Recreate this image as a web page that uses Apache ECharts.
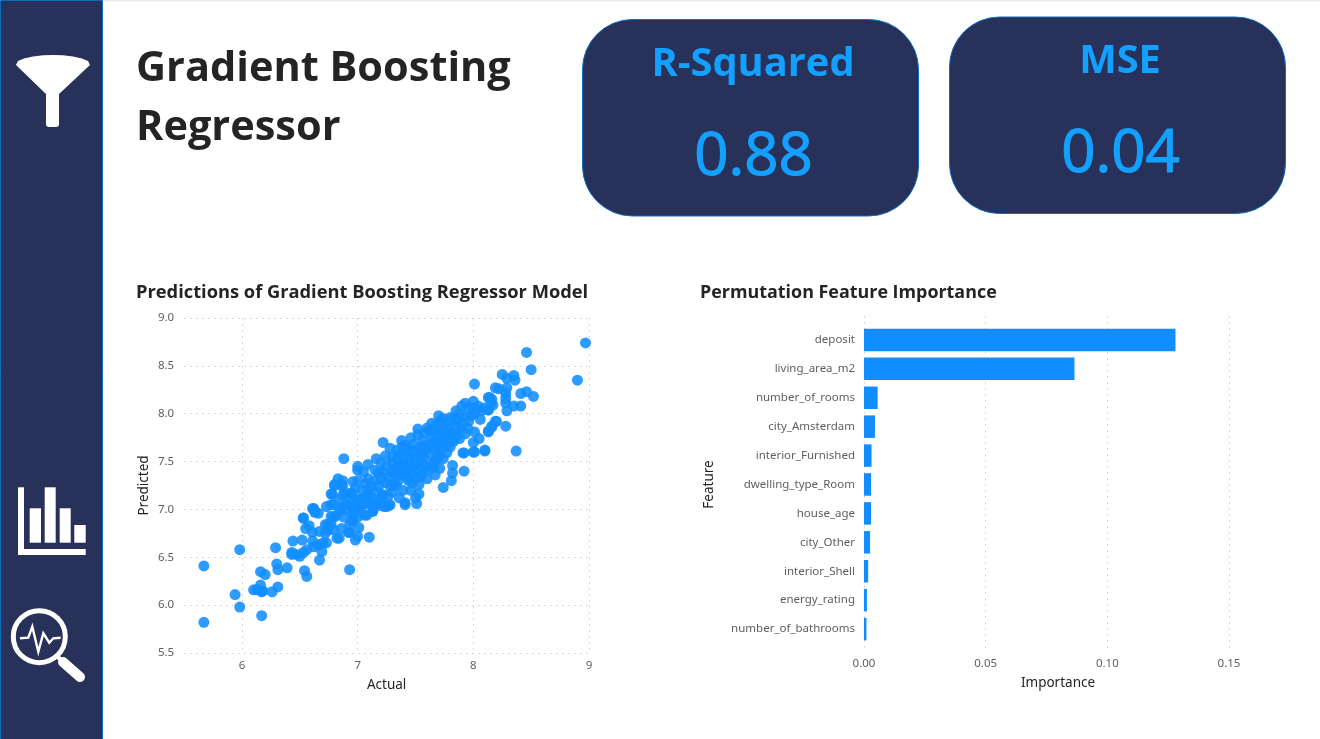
<!DOCTYPE html>
<html><head><meta charset="utf-8">
<style>html,body{margin:0;padding:0;background:#fff;overflow:hidden}#c{width:1320px;height:739px}</style>
<script src="https://cdn.jsdelivr.net/npm/echarts@6/dist/echarts.min.js"></script>
</head><body><div id="c"></div>
<script>
const pageTitle = ['Gradient Boosting', 'Regressor'];
const scatterTitle = 'Predictions of Gradient Boosting Regressor Model';
const barTitle = 'Permutation Feature Importance';
const kpiLabels = ['R-Squared', 'MSE'];
const kpiValues = ['0.88', '0.04'];
const scatterXTicks = [6, 7, 8, 9];
const scatterPoints = [
[5.67,6.41],[5.67,5.82],[5.98,6.58],[5.94,6.11],[5.98,5.98],[6.17,5.89],[6.29,6.60],[6.16,6.35],[6.20,6.32],[6.30,6.43],
[6.31,6.37],[6.39,6.39],[6.54,6.36],[6.56,6.30],[6.67,6.47],[6.93,6.37],[6.10,6.16],[6.13,6.16],[6.16,6.21],[6.17,6.14],
[6.18,6.15],[6.26,6.14],[6.31,6.19],[6.43,6.53],[6.43,6.55],[6.47,6.53],[6.50,6.51],[6.53,6.55],[6.56,6.58],[6.44,6.67],
[6.52,6.68],[6.53,6.91],[6.55,6.80],[6.58,6.83],[6.62,7.01],[6.63,6.97],[6.66,6.96],[6.61,6.76],[6.61,6.67],[6.62,6.61],
[6.67,6.77],[6.69,6.56],[6.66,6.63],[6.70,6.65],[6.73,6.65],[6.72,6.75],[6.74,6.85],[6.77,6.93],[6.81,6.93],[6.79,6.79],
[6.82,6.70],[6.84,6.70],[6.86,6.80],[6.93,6.76],[7.01,6.81],[7.00,6.72],[6.98,6.68],[7.10,6.71],[6.73,7.03],[6.77,7.05],
[6.78,7.16],[6.86,7.02],[6.90,7.00],[6.95,6.88],[6.96,6.95],[7.02,7.00],[7.08,6.94],[7.13,6.98],[6.80,7.26],[6.86,7.26],
[6.89,7.17],[6.94,7.17],[7.01,7.10],[6.93,7.05],[7.09,7.14],[7.16,7.05],[7.23,7.03],[7.27,7.04],[7.22,7.15],[7.41,7.07],
[7.41,7.05],[7.51,7.06],[6.88,7.53],[7.00,7.45],[7.00,7.41],[7.09,7.47],[7.16,7.53],[7.22,7.70],[7.28,7.64],[7.39,7.66],
[7.43,7.60],[7.24,7.56],[7.20,7.49],[7.05,7.39],[7.15,7.41],[7.22,7.39],[7.29,7.39],[6.83,7.32],[6.87,7.30],[6.80,7.25],
[6.96,7.29],[7.00,7.30],[7.09,7.32],[7.07,7.27],[7.20,7.32],[7.35,7.46],[7.39,7.48],[7.36,7.36],[7.41,7.38],[7.33,7.25],
[7.39,7.20],[6.77,7.16],[6.87,7.24],[6.87,7.15],[6.95,7.17],[7.09,7.20],[7.18,7.24],[7.22,7.15],[7.06,7.13],[7.00,7.10],
[6.90,7.05],[6.79,7.05],[6.61,7.01],[6.63,6.98],[6.53,6.91],[7.00,7.03],[7.09,7.06],[7.16,7.06],[7.13,6.98],[7.06,6.94],
[6.96,6.89],[7.25,7.03],[7.28,7.05],[7.19,7.10],[7.26,7.13],[6.79,6.92],[6.77,6.85],[6.72,6.84],[6.74,6.78],[6.92,6.76],
[6.97,6.98],[7.91,7.59],[8.00,7.60],[8.10,7.62],[7.92,7.40],[7.82,7.46],[7.82,7.38],[7.81,7.30],[7.74,7.23],[7.53,7.16],
[7.53,7.26],[7.60,7.32],[8.01,7.81],[8.00,7.70],[8.05,7.74],[8.13,7.81],[8.16,7.87],[8.20,7.92],[8.17,8.09],[8.14,8.17],
[8.07,8.03],[8.00,8.13],[7.93,8.11],[7.90,8.08],[8.13,8.04],[8.00,8.06],[8.01,8.00],[8.06,7.94],[7.93,7.97],[7.83,7.95],
[7.75,7.90],[7.71,7.92],[7.64,7.90],[7.60,7.85],[7.66,7.81],[7.71,7.83],[7.78,7.85],[7.84,7.88],[7.90,7.90],[7.96,7.92],
[7.83,7.71],[7.81,7.78],[7.93,7.79],[7.74,7.74],[7.66,7.71],[7.56,7.72],[7.53,7.64],[7.41,7.67],[7.44,7.64],[7.60,7.66],
[7.69,7.60],[7.77,7.59],[7.45,7.55],[7.57,7.55],[7.34,7.53],[7.41,7.46],[7.49,7.45],[7.66,7.50],[7.71,7.43],[7.61,7.41],
[7.32,7.38],[7.46,7.36],[7.31,7.27],[7.55,7.50],[7.67,7.36],[7.74,7.53],[8.97,8.74],[8.90,8.35],[8.46,8.64],[8.50,8.46],
[8.01,8.31],[8.25,8.41],[8.35,8.40],[8.29,8.37],[8.36,8.35],[8.19,8.27],[8.22,8.26],[8.29,8.27],[8.28,8.21],[8.28,8.16],
[8.28,8.11],[8.41,8.21],[8.46,8.23],[8.52,8.18],[8.41,8.08],[8.35,8.08],[8.29,8.03],[8.13,8.17],[8.16,8.15],[8.15,8.11],
[8.09,8.06],[8.13,8.04],[8.28,7.87],[8.19,7.92],[8.16,7.86],[8.13,7.82],[8.37,7.61],[8.10,7.61],[8.01,7.60],[7.92,7.59],
[7.30,7.55],[7.38,7.40],[7.44,7.30],[7.50,7.40],[7.55,7.35],[7.58,7.45],[7.62,7.58],[7.68,7.68],[7.72,7.78],[7.76,7.70],
[7.80,7.65],[7.86,7.80],[7.88,7.74],[7.50,7.55],[7.48,7.68],[7.52,7.78],[7.58,7.80],[7.64,7.76],[7.70,7.55],[7.45,7.45],
[7.36,7.58],[7.30,7.48],[7.25,7.45],[7.15,7.30],[7.12,7.12],[7.30,7.18],[7.36,7.12],[7.46,7.20],[7.50,7.12],[7.66,7.44],
[7.78,7.80],[7.95,7.85],[7.98,7.98],[8.04,8.08],[7.88,8.00],[7.80,7.96],[7.70,7.98],[7.62,7.83],[7.56,7.66],[7.48,7.60],
[7.35,7.30],[7.42,7.34],[7.47,7.28],[7.52,7.33],[7.57,7.40],[7.63,7.47],[7.68,7.52],[7.72,7.62],[7.76,7.66],[7.80,7.72],
[7.85,7.76],[7.90,7.84],[7.50,7.48],[7.54,7.58],[7.58,7.62],[7.62,7.68],[7.66,7.62],[7.70,7.70],[7.74,7.80],[7.40,7.54],
[7.44,7.50],[7.34,7.43],[7.27,7.34],[7.24,7.28],[7.17,7.18],[7.12,7.24],[7.04,7.20],[6.98,7.22],[7.28,7.24],[7.42,7.42],
[6.84,7.10],[6.92,7.12],[6.98,7.04],[7.04,7.04],[7.12,7.06],[7.20,7.04],[6.84,6.98],[6.88,6.92],[6.93,6.84],[7.00,6.92],
[7.68,7.88],[7.74,7.95],[7.85,8.03],[7.96,8.06],[7.86,7.92],[7.52,7.84],[7.46,7.75],[7.38,7.72],[7.34,7.62],[7.18,7.38]
];
const featureNames = ['deposit','living_area_m2','number_of_rooms','city_Amsterdam','interior_Furnished','dwelling_type_Room','house_age','city_Other','interior_Shell','energy_rating','number_of_bathrooms'];
const featureImportance = [0.128,0.0865,0.0056,0.0045,0.0031,0.0029,0.0029,0.0025,0.0017,0.0012,0.0010];

const navy = '#283159', edge = '#0F6CBD', accent = '#14A0FF', barBlue = '#118DFF';
const tickColor = '#605E5C', nameColor = '#252423';
const uiFont = '"Open Sans", "Noto Sans", sans-serif';
const axisFont = '"Noto Sans", sans-serif';
const dotted = {color:'#CFCDCB', width:1, type:[1.5,4.5]};
const white = {fill:'#fff'};

function card(x,y,label,value){
  return [
    {type:'rect',shape:{x:x,y:y,width:336,height:196.5,r:50},style:{fill:navy,stroke:edge,lineWidth:1}},
    {type:'text',style:{x:x+170.5,y:y+45,text:label,fill:accent,font:'bold 39.8px '+uiFont,textAlign:'center',textVerticalAlign:'middle'}},
    {type:'text',style:{x:x+171,y:y+138,text:value,fill:accent,stroke:accent,lineWidth:1.2,font:'60px '+uiFont,textAlign:'center',textVerticalAlign:'middle'}}
  ];
}
const graphics = [
  {type:'rect',shape:{x:0,y:0,width:1320,height:1.5},style:{fill:'#EDEDED'}},
  {type:'rect',shape:{x:0.5,y:0.5,width:102,height:740},style:{fill:navy,stroke:edge,lineWidth:1}},
  {type:'polygon',shape:{points:[[16,65],[18,61],[24,58.5],[33,56.5],[43,55.3],[53,55],[63,55.3],[73,56.5],[82,58.5],[88,61],[90,65],[59,94],[46,94]]},style:white},
  {type:'rect',shape:{x:46,y:90,width:13,height:37,r:[0,0,3,3]},style:white},
  {type:'rect',shape:{x:18,y:487.3,width:6,height:67.7},style:white},
  {type:'rect',shape:{x:18,y:549,width:67.7,height:6},style:white},
  {type:'rect',shape:{x:29.7,y:508.3,width:11.3,height:34.4},style:white},
  {type:'rect',shape:{x:44.7,y:487.3,width:11,height:55.4},style:white},
  {type:'rect',shape:{x:59.7,y:508.3,width:11,height:34.4},style:white},
  {type:'rect',shape:{x:74.3,y:525,width:11.4,height:17.7},style:white},
  {type:'circle',shape:{cx:39.3,cy:636.7,r:26},style:{fill:'none',stroke:'#fff',lineWidth:5}},
  {type:'line',shape:{x1:56,y1:655,x2:62,y2:661},style:{stroke:'#fff',lineWidth:4.5}},
  {type:'line',shape:{x1:63,y1:662,x2:80,y2:677},style:{stroke:'#fff',lineWidth:10,lineCap:'round'}},
  {type:'polyline',shape:{points:[[20,638.3],[28.3,637.7],[32.3,626.7],[38.3,651.7],[43.3,633.3],[49.3,642.7],[53.3,638.3],[60.7,637.7]]},style:{fill:'none',stroke:'#fff',lineWidth:2.4}},
  {type:'text',style:{x:136,y:69,text:pageTitle[0],fill:'#252423',font:'bold 41.5px '+uiFont,textVerticalAlign:'middle'}},
  {type:'text',style:{x:136,y:128,text:pageTitle[1],fill:'#252423',font:'bold 41.5px '+uiFont,textVerticalAlign:'middle'}},
  ...card(582.5,19.5,kpiLabels[0],kpiValues[0]),
  ...card(949.5,17,kpiLabels[1],kpiValues[1])
];

const chart = echarts.init(document.getElementById('c'),null,{renderer:'canvas',width:1320,height:739});
chart.setOption({
  animation:false,
  backgroundColor:'#fff',
  textStyle:{fontFamily:axisFont},
  title:[
    {text:scatterTitle,left:136,top:284,padding:0,textStyle:{fontFamily:uiFont,fontSize:18.3,fontWeight:'bold',color:'#252423'}},
    {text:barTitle,left:700,top:284,padding:0,textStyle:{fontFamily:uiFont,fontSize:17.9,fontWeight:'bold',color:'#252423'}}
  ],
  grid:[
    {left:184.2,top:318,width:404.8,height:335},
    {left:864,top:316,width:365,height:336},
    {left:864,top:325.5,width:365,height:318}
  ],
  xAxis:[
    {type:'value',gridIndex:0,min:5.5,max:9,interval:0.5,name:'Actual',nameLocation:'middle',nameGap:25,
     nameTextStyle:{color:nameColor,fontSize:13.5},
     axisLine:{show:false},
     axisTick:{show:false,customValues:scatterXTicks},
     axisLabel:{color:tickColor,fontSize:11.5,margin:7,customValues:scatterXTicks,showMinLabel:true,showMaxLabel:true},
     splitLine:{show:true,lineStyle:dotted}},
    {type:'value',gridIndex:1,min:0,max:0.15,interval:0.05,name:'Importance',nameLocation:'middle',nameGap:24,
     nameTextStyle:{color:nameColor,fontSize:13.5,padding:[0,0,0,23]},
     axisLine:{show:false},axisTick:{show:false},
     axisLabel:{color:tickColor,fontSize:11.5,margin:6,formatter:v=>v.toFixed(2)},
     splitLine:{show:true,lineStyle:dotted}},
    {type:'value',gridIndex:2,min:0,max:0.15,interval:0.05,show:false}
  ],
  yAxis:[
    {type:'value',gridIndex:0,min:5.5,max:9,interval:0.5,name:'Predicted',nameLocation:'middle',nameGap:33,
     nameTextStyle:{color:nameColor,fontSize:13.5},
     axisLine:{show:false},axisTick:{show:false},
     axisLabel:{color:tickColor,fontSize:11.5,margin:10,formatter:v=>v.toFixed(1)},
     splitLine:{show:true,lineStyle:dotted}},
    {type:'value',gridIndex:1,min:0,max:1,show:false},
    {type:'category',gridIndex:2,inverse:true,data:featureNames,name:'Feature',nameLocation:'middle',nameGap:148,
     nameTextStyle:{color:nameColor,fontSize:13.5},
     axisLine:{show:false},axisTick:{show:false},
     axisLabel:{color:tickColor,fontSize:11.5,margin:9,interval:0,padding:[4,0,0,0]},
     splitLine:{show:false}}
  ],
  series:[
    {type:'scatter',xAxisIndex:0,yAxisIndex:0,data:scatterPoints,symbolSize:11,clip:true,
     itemStyle:{color:barBlue,opacity:0.88}},
    {type:'bar',xAxisIndex:2,yAxisIndex:2,data:featureImportance,barWidth:22.5,itemStyle:{color:barBlue}}
  ],
  graphic:{elements:graphics}
});
</script></body></html>
